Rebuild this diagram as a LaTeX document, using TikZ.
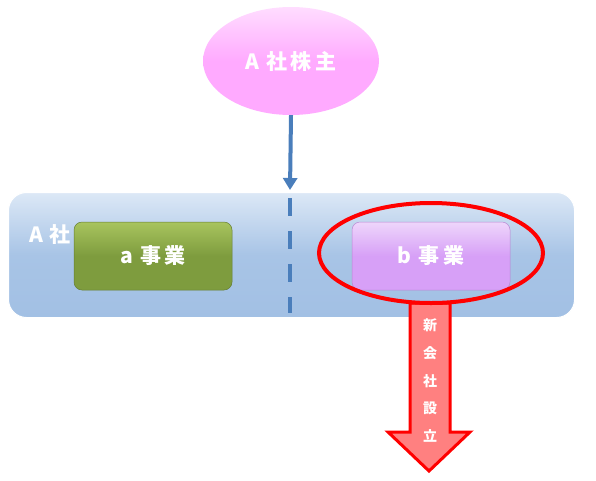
\documentclass[tikz,border=0pt]{standalone}
\usepackage{fontspec}
\setmainfont{Noto Sans CJK JP}
\usetikzlibrary{shapes.geometric,arrows.meta}
\definecolor{blueline}{HTML}{4A7EBB}
\definecolor{boxtop}{HTML}{DCE8F6}
\definecolor{boxbot}{HTML}{A2C0E4}
\definecolor{pinkfill}{HTML}{FFAAFF}
\definecolor{pinktop}{HTML}{FFDDFF}
\definecolor{greenfill}{HTML}{7E9C3E}
\definecolor{greentop}{HTML}{A8C45E}
\definecolor{purplefill}{HTML}{D7A0F7}
\definecolor{purpletop}{HTML}{EED6FB}
\definecolor{arrowfill}{HTML}{FF8080}
\tikzset{
  wtext/.style={text=white, font=\fontsize{21}{23}\selectfont\bfseries},
  small/.style={text=white, font=\fontsize{14}{15}\selectfont\bfseries},
  bizbox/.style={rounded corners=8pt, minimum width=158pt, minimum height=68pt, wtext},
}
\begin{document}
\begin{tikzpicture}[x=1pt,y=-1pt]
\useasboundingbox (0,0) rectangle (596,480);
% company box
\node[draw=white, line width=1pt, rounded corners=18pt, top color=boxtop, bottom color=boxbot, middle color=boxbot!90!boxtop,
      minimum width=566pt, minimum height=125pt, anchor=north west] (co) at (8,192) {};
\node[wtext, anchor=center] (colabel) at (50,235) {A\,\,社};
% shareholder ellipse
\node[ellipse, top color=pinktop, bottom color=pinkfill, middle color=pinkfill, minimum width=176pt, minimum height=108pt, wtext] (sh) at (291,61) {A\,\,社\,株\,主};
\coordinate (tip) at (290,190);
\draw[blueline, line width=4pt, -{Triangle[width=14pt,length=12pt]}] (sh.south) -- (tip);
% dashed divider
\coordinate (d1) at (290,198);
\coordinate (d2) at (290,313);
\draw[blueline, line width=4pt, dash pattern=on 18pt off 15pt] (d1) -- (d2);
% businesses
\node[bizbox, draw=greenfill!80!black, line width=0.5pt, top color=greentop, bottom color=greenfill, middle color=greenfill] (a) at (153,256) {a\,\,事\,業};
\node[bizbox, draw=purplefill!85!black, line width=0.5pt, top color=purpletop, bottom color=purplefill, middle color=purplefill] (b) at (431,256) {b\,\,事\,業};
% red arrow
\draw[red, line width=3pt, fill=arrowfill, line join=miter]
  (410,303) -- (450,303) -- (450,432) -- (470,432) -- (429,471) -- (388,432) -- (410,432) -- cycle;
% red ellipse
\node[ellipse, draw=red, line width=4pt, minimum width=224pt, minimum height=100pt] (ring) at (431,253) {};
\node[small] (t1) at (430,325) {新};
\node[small] (t2) at (430,353) {会};
\node[small] (t3) at (430,381) {社};
\node[small] (t4) at (430,408) {設};
\node[small] (t5) at (430,436) {立};
\end{tikzpicture}
\end{document}
